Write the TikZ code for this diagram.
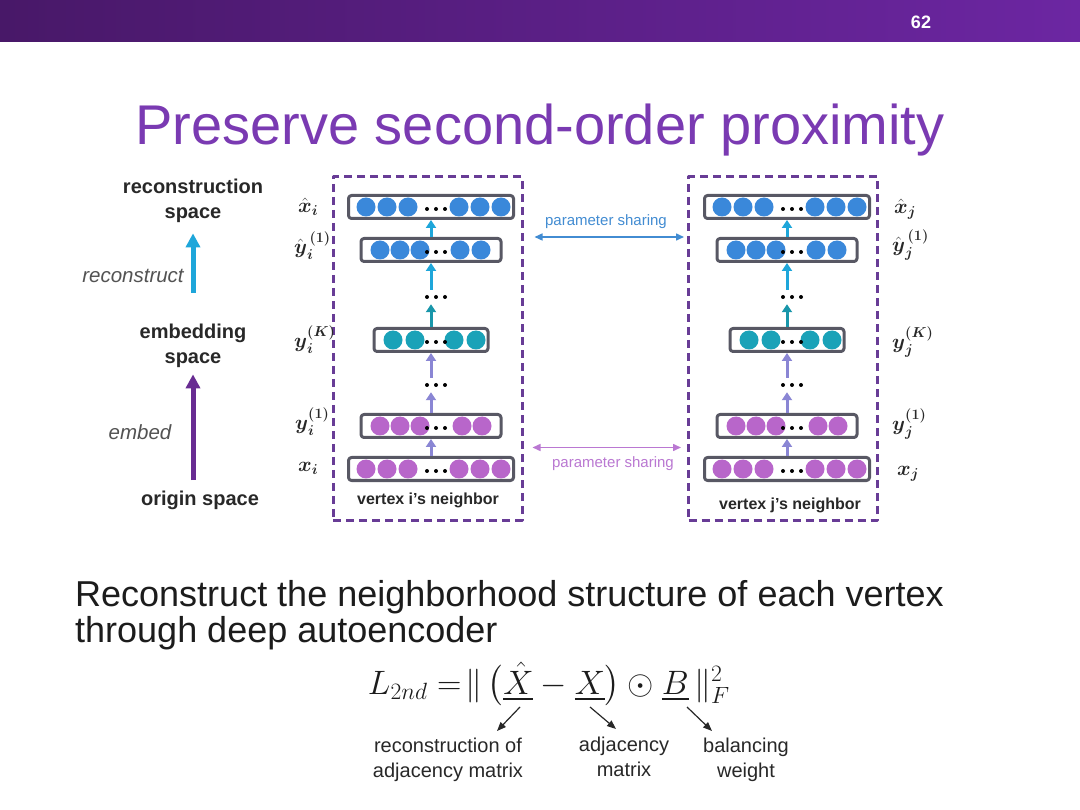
\documentclass[tikz,border=0pt]{standalone}
\usepackage{amsmath}
\usepackage[no-math]{fontspec}
\setmainfont{Liberation Sans}
\usetikzlibrary{arrows.meta,positioning,calc}
\definecolor{barL}{RGB}{72,24,104}
\definecolor{barR}{RGB}{108,38,162}
\definecolor{titleC}{RGB}{122,58,178}
\definecolor{frameC}{RGB}{104,60,150}
\definecolor{rowC}{RGB}{88,88,100}
\definecolor{blueC}{RGB}{58,136,218}
\definecolor{tealC}{RGB}{26,162,184}
\definecolor{pinkC}{RGB}{184,102,202}
\definecolor{cyanA}{RGB}{30,166,218}
\definecolor{tealA}{RGB}{24,150,170}
\definecolor{lavA}{RGB}{138,134,212}
\definecolor{purA}{RGB}{104,44,146}
\definecolor{shareB}{RGB}{66,140,210}
\definecolor{shareP}{RGB}{186,120,210}
\definecolor{txtC}{RGB}{40,40,40}
\newcommand{\fsz}[2]{\fontsize{#1}{#2}\selectfont}

\begin{document}
\begin{tikzpicture}[x=1pt,y=-1pt,line join=round,
	unitrow/.style={draw=rowC,line width=3pt,rounded corners=3pt,minimum height=23pt,inner sep=0pt,fill=white},
	dotgap/.style={inner sep=0pt,minimum width=24pt,minimum height=14pt},
	upar/.style={line width=3pt,-{Triangle[length=8pt,width=10pt]}},
	bigar/.style={line width=5pt,-{Triangle[length=14pt,width=14pt]}},
	sharear/.style={line width=1.5pt,{Triangle[length=8pt,width=7pt]}-{Triangle[length=8pt,width=7pt]}},
	annot/.style={line width=1.2pt,-{Triangle[length=9pt,width=7pt]}},
	nbrbox/.style={draw=frameC,line width=3pt,dash pattern=on 8pt off 5pt,minimum width=189pt,minimum height=343pt,inner sep=0pt},
	mlab/.style={anchor=west,inner sep=0pt,text=txtC,font=\fsz{20}{24}},
	spacelab/.style={align=center,text=txtC,font=\bfseries\fsz{20}{25}},
	verblab/.style={text=txtC!80,font=\itshape\fsz{20.5}{24}},
	nbrlab/.style={text=txtC,font=\bfseries\fsz{16}{19}},
	botlab/.style={align=center,text=txtC,font=\fsz{20}{25}}]
	\useasboundingbox (0,0) rectangle (1080,810);
	\fill[white] (0,0) rectangle (1080,810);
	\shade[left color=barL,right color=barR] (0,0) rectangle (1080,42);
	\node[text=white,font=\bfseries\fsz{18}{20}] (pnum) at (921,22) {62};
	\node[anchor=base,text=titleC,font=\fsz{56}{60}] (title) at (540,145) {Preserve second-order proximity};
	% spaces on the left
	\node[spacelab] (rec) at (193,201) {reconstruction\\space};
	\node[spacelab] (emb) at (193,346) {embedding\\space};
	\node[spacelab] (orig) at (200,500) {origin space};
	\draw[bigar,cyanA,shorten <=28pt,shorten >=7pt] (emb) -- (rec);
	\draw[bigar,purA,shorten <=7pt,shorten >=3pt] (emb.south |- orig.north) -- (emb.south);
	\node[verblab] (lrecon) at (133,276) {reconstruct};
	\node[verblab] (lembed) at (140,432) {embed};
	% the two autoencoders
	\node[nbrbox] (boxi) at (427.5,348.5) {};
	\node[nbrbox] (boxj) at (783,348.5) {};
	\foreach \s/\dx in {i/0,j/356}{
		\begin{scope}[xshift=\dx]
			\node[unitrow,minimum width=165pt] (xhat\s) at (431,207) {};
			\node[unitrow,minimum width=140pt] (yhat\s) at (431,250) {};
			\node[dotgap] (dup\s) at (431,297) {};
			\node[unitrow,minimum width=114pt] (yK\s) at (431,340) {};
			\node[dotgap] (ddn\s) at (431,385) {};
			\node[unitrow,minimum width=140pt] (yone\s) at (431,426) {};
			\node[unitrow,minimum width=165pt] (x\s) at (431,469) {};
			\foreach \c in {366,387,408,459,480,501} \fill[blueC] (\c,207) circle (9.5);
			\foreach \c in {380,400,420,460,481} \fill[blueC] (\c,250) circle (9.5);
			\foreach \c in {393,415,454,476} \fill[tealC] (\c,340) circle (9.5);
			\foreach \c in {380,400,420,462,482} \fill[pinkC] (\c,426) circle (9.5);
			\foreach \c in {366,387,408,459,480,501} \fill[pinkC] (\c,469) circle (9.5);
			\foreach \r in {209,252,297,342,385,428,471}
				\foreach \d in {0,9,18} \fill (427+\d,\r) circle (2);
			\draw[upar,lavA] (x\s) -- (yone\s);
			\draw[upar,lavA] (yone\s) -- (ddn\s);
			\draw[upar,lavA] (ddn\s) -- (yK\s);
			\draw[upar,tealA] (yK\s) -- (dup\s);
			\draw[upar,cyanA] (dup\s) -- (yhat\s);
			\draw[upar,cyanA] (yhat\s) -- (xhat\s);
		\end{scope}
	}
	\node[nbrlab] (vi) at (428,500) {vertex i’s neighbor};
	\node[nbrlab] (vj) at (790,505) {vertex j’s neighbor};
	% layer names
	\node[mlab] (lxhati) at (298,207) {$\hat{\boldsymbol{x}}_{\boldsymbol{i}}$};
	\node[mlab] (lyhati) at (294,246) {$\hat{\boldsymbol{y}}_{\boldsymbol{i}}^{\,\boldsymbol{(1)}}$};
	\node[mlab] (lyKi) at (294,340) {$\boldsymbol{y}_{\boldsymbol{i}}^{\boldsymbol{(K)}}$};
	\node[mlab] (lyonei) at (295,422) {$\boldsymbol{y}_{\boldsymbol{i}}^{\boldsymbol{(1)}}$};
	\node[mlab] (lxi) at (298,468) {$\boldsymbol{x}_{\boldsymbol{i}}$};
	\node[mlab] (lxhatj) at (894,209) {$\hat{\boldsymbol{x}}_{\boldsymbol{j}}$};
	\node[mlab] (lyhatj) at (892,245) {$\hat{\boldsymbol{y}}_{\boldsymbol{j}}^{\,\boldsymbol{(1)}}$};
	\node[mlab] (lyKj) at (892,342) {$\boldsymbol{y}_{\boldsymbol{j}}^{\boldsymbol{(K)}}$};
	\node[mlab] (lyonej) at (892,424) {$\boldsymbol{y}_{\boldsymbol{j}}^{\boldsymbol{(1)}}$};
	\node[mlab] (lxj) at (897,474) {$\boldsymbol{x}_{\boldsymbol{j}}$};
	% parameter sharing
	\draw[sharear,shareB,shorten <=11pt,shorten >=3pt] (boxi.east |- yhati.north) -- (boxj.west |- yhatj.north);
	\node[text=shareB,font=\fsz{15}{18}] (lshareB) at (606,222) {parameter sharing};
	\coordinate (pmid) at ($(yonei.south)!.5!(xi.north)$);
	\draw[sharear,shareP,shorten <=9pt,shorten >=6pt] (boxi.east |- pmid) -- (boxj.west |- pmid);
	\node[text=shareP,font=\fsz{15}{18}] (lshareP) at (613,464) {parameter sharing};
	% objective
	\node[anchor=north west,align=left,inner sep=0pt,text=txtC!70!black,font=\fsz{36}{36}] (desc) at (75,580) {Reconstruct the neighborhood structure of each vertex\\through deep autoencoder};
	\node[text=txtC!70!black,font=\fsz{24}{28},scale=1.36] (loss) at (549,684) {$L_{2nd} =\!\| \,\bigl(\underline{\hat{X}} - \underline{X}\bigr) \odot \underline{B}\, \|_F^2$};
	\coordinate (a1s) at (520,707);
	\coordinate (a1e) at (497,731);
	\coordinate (a2s) at (590,707);
	\coordinate (a2e) at (616,729);
	\coordinate (a3s) at (687,707);
	\coordinate (a3e) at (712,731);
	\draw[annot,txtC] (a1s) -- (a1e);
	\draw[annot,txtC] (a2s) -- (a2e);
	\draw[annot,txtC] (a3s) -- (a3e);
	\node[botlab] (lrec) at (448,760) {reconstruction of\\adjacency matrix};
	\node[botlab] (ladj) at (624,757) {adjacency\\matrix};
	\node[botlab] (lbal) at (746,760) {balancing\\weight};
\end{tikzpicture}
\end{document}
